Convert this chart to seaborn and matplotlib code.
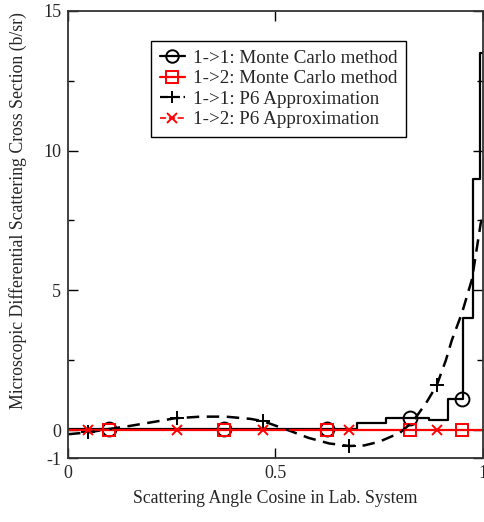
# Differential scattering cross section: Monte Carlo histogram vs P6 approximation

import numpy as np
import pandas as pd
import matplotlib
matplotlib.use("Agg")
import matplotlib.pyplot as plt
from matplotlib.lines import Line2D
import seaborn as sns

# Monte Carlo 1->1 histogram (bin edges and values)
mc11_edges = [0.0, 0.697, 0.767, 0.870, 0.916, 0.952, 0.976, 0.993, 1.0]
mc11_values = [0.05, 0.25, 0.43, 0.36, 1.1, 4.0, 9.0, 13.5]
mc11_marker_x = [0.1, 0.375, 0.625, 0.825, 0.95]

# Monte Carlo 1->2 (flat, ~0)
mc12_x = [0.0, 1.0]
mc12_y = [0.0, 0.0]
mc12_marker_x = [0.1, 0.375, 0.625, 0.825, 0.95]

# P6 approximation 1->1
p6_11_x = [0.0, 0.05, 0.10, 0.15, 0.21, 0.257, 0.32, 0.38, 0.44, 0.47, 0.53,
           0.58, 0.63, 0.678, 0.714, 0.75, 0.80, 0.83, 0.863, 0.889, 0.911,
           0.925, 0.95, 0.974, 0.995, 1.0]
p6_11_y = [-0.15, -0.08, 0.04, 0.15, 0.30, 0.42, 0.48, 0.48, 0.40, 0.32, 0.0,
           -0.28, -0.48, -0.57, -0.55, -0.42, -0.10, 0.28, 0.96, 1.6, 2.5,
           3.2, 4.2, 5.4, 7.4, 7.6]

# P6 approximation 1->2 (~0)
p6_12_x = [0.0, 1.0]
p6_12_y = [0.0, 0.0]
p6_marker_x = [0.048, 0.262, 0.469, 0.678, 0.889]

x_ticks = [0, 0.5, 1]
x_ticklabels = ['0', '0.5', '1']
y_ticks = [-1, 0, 5, 10, 15]
y_ticklabels = ['-1', '0', '5', '10', '15']
y_minor = [2.5, 7.5, 12.5]

sns.set_theme(style="ticks")
plt.rcParams['font.family'] = ['Liberation Serif', 'DejaVu Serif']
plt.rcParams['xtick.direction'] = 'in'
plt.rcParams['ytick.direction'] = 'in'

fig = plt.figure(figsize=(4.84, 5.22), dpi=100)
ax = fig.add_axes([0.1405, 0.1226, 0.857, 0.8565])

# step line for MC 1->1
step_df = pd.DataFrame({'x': mc11_edges, 'y': mc11_values + [mc11_values[-1]]})
sns.lineplot(data=step_df, x='x', y='y', ax=ax, color='black', lw=1.6,
             drawstyle='steps-post', sort=False, estimator=None)
idx = np.searchsorted(mc11_edges, mc11_marker_x, side='right') - 1
mc11_marker_y = [mc11_values[i] for i in idx]
ax.plot(mc11_marker_x, mc11_marker_y, ls='none', marker='o', ms=10,
        mfc='none', mec='black', mew=1.4)

# MC 1->2
sns.lineplot(x=mc12_x, y=mc12_y, ax=ax, color='red', lw=1.6)
ax.plot(mc12_marker_x, [0.0] * len(mc12_marker_x), ls='none', marker='s', ms=8,
        mfc='none', mec='red', mew=1.4)

# P6 1->1
sns.lineplot(x=p6_11_x, y=p6_11_y, ax=ax, color='black', lw=1.8,
             sort=False, estimator=None)
ax.lines[-1].set_dashes([5, 3])
p6_marker_y = np.interp(p6_marker_x, p6_11_x, p6_11_y)
ax.plot(p6_marker_x, p6_marker_y, ls='none', marker='+', ms=10,
        mec='black', mew=1.4)

# P6 1->2
ax.plot(p6_12_x, p6_12_y, color='red', lw=1.2, ls='--')
ax.plot(p6_marker_x, [0.0] * len(p6_marker_x), ls='none', marker='x', ms=7,
        mec='red', mew=1.4)

ax.set_xlim(0, 1)
ax.set_ylim(-1, 15)
ax.set_xticks(x_ticks, x_ticklabels)
ax.set_yticks(y_ticks, y_ticklabels)
ax.set_yticks(y_minor, minor=True)
ax.tick_params(which='major', length=7, width=1, top=True, right=True,
               labelsize=13, pad=5, color='black')
ax.tick_params(which='minor', length=4, width=1, left=True, right=True,
               color='black')
for s in ax.spines.values():
    s.set_linewidth(1.3)
    s.set_color('#333333')

ax.set_xlabel('Scattering Angle Cosine in Lab. System', fontsize=12.8, labelpad=6)
ax.set_ylabel('Microscopic Differential Scattering Cross Section (b/sr)',
              fontsize=12.8)
ax.yaxis.set_label_coords(-0.098, 0.553)

handles = [
    Line2D([], [], color='black', lw=1.6, marker='o', ms=9, mfc='none', mew=1.4),
    Line2D([], [], color='red', lw=1.6, marker='s', ms=8, mfc='none', mew=1.4),
    Line2D([], [], color='black', lw=1.6, ls='--', marker='+', ms=9, mew=1.4),
    Line2D([], [], color='red', lw=1.2, ls='--', marker='x', ms=7, mew=1.4),
]
labels = ['1->1: Monte Carlo method', '1->2: Monte Carlo method',
          '1->1: P6 Approximation', '1->2: P6 Approximation']
leg = ax.legend(handles, labels, loc='upper left', bbox_to_anchor=(0.2, 0.933),
                fontsize=13.7, frameon=True, fancybox=False, framealpha=1,
                edgecolor='black', handlelength=1.35, labelspacing=0.17,
                borderpad=0.45, handletextpad=0.4, borderaxespad=0)
leg.get_frame().set_linewidth(1.0)

fig.savefig('out.png', dpi=100)
